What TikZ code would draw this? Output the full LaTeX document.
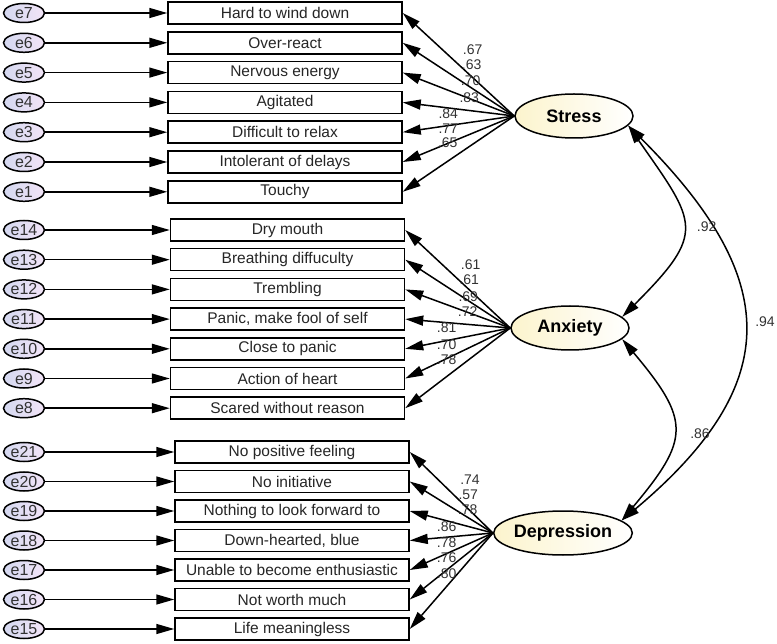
\documentclass[tikz,border=0pt]{standalone}
\usepackage{xcolor}
\usepackage{fontspec}
\setmainfont{Liberation Sans}
\usepackage{tikz}
\usetikzlibrary{arrows.meta,shapes.geometric}

\definecolor{errleft}{RGB}{212,216,240}
\definecolor{errright}{RGB}{242,228,247}
\definecolor{latleft}{RGB}{252,244,205}
\definecolor{coefgray}{RGB}{50,50,50}

\tikzset{
  err/.style={ellipse,draw,line width=1.5pt,left color=errleft,right color=errright,
    minimum width=41pt,minimum height=19pt,inner sep=0pt,text=coefgray,
    font=\fontsize{16}{16}\selectfont},
  item/.style={rectangle,draw,line width=1.5pt,fill=white,minimum width=234pt,
    minimum height=22pt,inner sep=0pt,text=black!85,font=\fontsize{15.5}{16}\selectfont},
  factor/.style={ellipse,draw,line width=1.5pt,left color=latleft,right color=white,
    minimum width=118pt,minimum height=44pt,inner sep=0pt,
    font=\fontsize{18}{18}\selectfont\bfseries},
  coef/.style={inner sep=0pt,text=coefgray,font=\fontsize{14}{14}\selectfont},
  arr/.style={line width=1.5pt,-{Triangle[length=18pt,width=10pt]}},
  corr/.style={line width=1.5pt,{Triangle[length=18pt,width=10pt]}-{Triangle[length=18pt,width=10pt]}}
}

\begin{document}
\begin{tikzpicture}[x=1pt,y=1pt]
\useasboundingbox (0,0) rectangle (777,-644);

% latent factors
\node[factor] (stress) at (574,-116) {Stress};
\node[factor] (anxiety) at (570,-328) {Anxiety};
\node[factor] (depression) at (563,-533) {Depression};

% stress items
\node[err] (e7) at (24,-13) {e7};   \node[item] (hard) at (285,-13) {Hard to wind down};
\node[err] (e6) at (24,-42.8) {e6}; \node[item] (overreact) at (285,-42.8) {Over-react};
\node[err] (e5) at (24,-72.6) {e5}; \node[item] (nervous) at (285,-72.6) {Nervous energy};
\node[err] (e4) at (24,-102.4) {e4}; \node[item] (agitated) at (285,-102.4) {Agitated};
\node[err] (e3) at (24,-132.2) {e3}; \node[item] (relax) at (285,-132.2) {Difficult to relax};
\node[err] (e2) at (24,-162) {e2};  \node[item] (delays) at (285,-162) {Intolerant of delays};
\node[err] (e1) at (24,-191.8) {e1}; \node[item] (touchy) at (285,-191.8) {Touchy};

% anxiety items
\node[err] (e14) at (24,-230) {e14};   \node[item] (drymouth) at (287.5,-230) {Dry mouth};
\node[err] (e13) at (24,-259.7) {e13}; \node[item] (breathing) at (287.5,-259.7) {Breathing diffuculty};
\node[err] (e12) at (24,-289.4) {e12}; \node[item] (trembling) at (287.5,-289.4) {Trembling};
\node[err] (e11) at (24,-319.1) {e11}; \node[item] (foolself) at (287.5,-319.1) {Panic, make fool of self};
\node[err] (e10) at (24,-348.8) {e10}; \node[item] (closepanic) at (287.5,-348.8) {Close to panic};
\node[err] (e9) at (24,-378.5) {e9};   \node[item] (heart) at (287.5,-378.5) {Action of heart};
\node[err] (e8) at (24,-408.2) {e8};   \node[item] (scared) at (287.5,-408.2) {Scared without reason};

% depression items
\node[err] (e21) at (24,-452) {e21};   \node[item] (positive) at (292,-452) {No positive feeling};
\node[err] (e20) at (24,-481.5) {e20}; \node[item] (initiative) at (292,-481.5) {No initiative};
\node[err] (e19) at (24,-511) {e19};   \node[item] (forward) at (292,-511) {Nothing to look forward to};
\node[err] (e18) at (24,-540.5) {e18}; \node[item] (blue) at (292,-540.5) {Down-hearted, blue};
\node[err] (e17) at (24,-570) {e17};   \node[item] (enthus) at (292,-570) {Unable to become enthusiastic};
\node[err] (e16) at (24,-599.5) {e16}; \node[item] (worth) at (292,-599.5) {Not worth much};
\node[err] (e15) at (24,-629) {e15};   \node[item] (meaning) at (292,-629) {Life meaningless};

% errors to items
\draw[arr] (e7) -- (hard);      \draw[arr] (e6) -- (overreact);
\draw[arr] (e5) -- (nervous);   \draw[arr] (e4) -- (agitated);
\draw[arr] (e3) -- (relax);     \draw[arr] (e2) -- (delays);
\draw[arr] (e1) -- (touchy);
\draw[arr] (e14) -- (drymouth); \draw[arr] (e13) -- (breathing);
\draw[arr] (e12) -- (trembling);\draw[arr] (e11) -- (foolself);
\draw[arr] (e10) -- (closepanic);\draw[arr] (e9) -- (heart);
\draw[arr] (e8) -- (scared);
\draw[arr] (e21) -- (positive); \draw[arr] (e20) -- (initiative);
\draw[arr] (e19) -- (forward);  \draw[arr] (e18) -- (blue);
\draw[arr] (e17) -- (enthus);   \draw[arr] (e16) -- (worth);
\draw[arr] (e15) -- (meaning);

% loadings
\draw[arr] (stress.west) -- (hard.east);
\draw[arr] (stress.west) -- (overreact.east);
\draw[arr] (stress.west) -- (nervous.east);
\draw[arr] (stress.west) -- (agitated.east);
\draw[arr] (stress.west) -- (relax.east);
\draw[arr] (stress.west) -- (delays.east);
\draw[arr] (stress.west) -- (touchy.east);
\draw[arr] (anxiety.west) -- (drymouth.east);
\draw[arr] (anxiety.west) -- (breathing.east);
\draw[arr] (anxiety.west) -- (trembling.east);
\draw[arr] (anxiety.west) -- (foolself.east);
\draw[arr] (anxiety.west) -- (closepanic.east);
\draw[arr] (anxiety.west) -- (heart.east);
\draw[arr] (anxiety.west) -- (scared.east);
\draw[arr] (depression.west) -- (positive.east);
\draw[arr] (depression.west) -- (initiative.east);
\draw[arr] (depression.west) -- (forward.east);
\draw[arr] (depression.west) -- (blue.east);
\draw[arr] (depression.west) -- (enthus.east);
\draw[arr] (depression.west) -- (worth.east);
\draw[arr] (depression.west) -- (meaning.east);

\node[coef] (s7) at (472.7,-50) {.67};
\node[coef] (s6) at (471.7,-65) {.63};
\node[coef] (s5) at (470.7,-81) {.70};
\node[coef] (s4) at (469.3,-97.3) {.83};
\node[coef] (s3) at (448.3,-113.3) {.84};
\node[coef] (s2) at (448.3,-128.3) {.77};
\node[coef] (s1) at (447.7,-142.7) {.65};

\node[coef] (a14) at (470.7,-265) {.61};
\node[coef] (a13) at (469.3,-280) {.61};
\node[coef] (a12) at (468.3,-296.7) {.69};
\node[coef] (a11) at (467.7,-311.7) {.72};
\node[coef] (a10) at (446.7,-327.3) {.81};
\node[coef] (a9) at (446.7,-344.3) {.70};
\node[coef] (a8) at (446.7,-360) {.78};

\node[coef] (d21) at (470,-479.3) {.74};
\node[coef] (d20) at (468.3,-495) {.57};
\node[coef] (d19) at (467.7,-510) {.78};
\node[coef] (d18) at (446.7,-526.7) {.86};
\node[coef] (d17) at (446.7,-542.7) {.78};
\node[coef] (d16) at (446.7,-557.3) {.76};
\node[coef] (d15) at (446.7,-574) {.80};

% correlations
\draw[corr] (stress.-10) to[out=-55,in=45,looseness=1.6] (anxiety.12);
\draw[corr] (anxiety.-12) to[out=-50,in=50,looseness=1.5] (depression.12);
\draw[corr] (stress.-10) to[out=-45,in=40,looseness=1.39] (depression.12);
\node[coef] (r1) at (706.7,-226.7) {.92};
\node[coef] (r2) at (700,-434) {.86};
\node[coef] (r3) at (765,-321.7) {.94};
\end{tikzpicture}
\end{document}
